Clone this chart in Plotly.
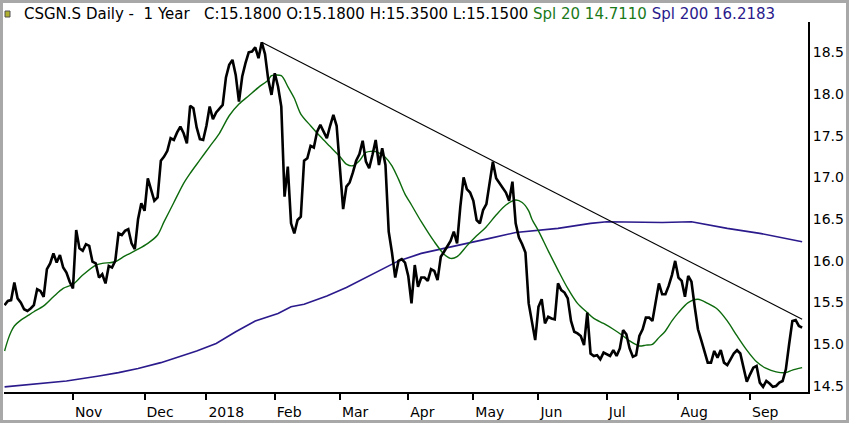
import plotly.graph_objects as go

# daily closes, one per trading day (index 0 = early Oct 2017)
close = [
    15.47, 15.52, 15.53, 15.74, 15.55, 15.50, 15.42, 15.40, 15.43, 15.47,
    15.66, 15.64, 15.57, 15.90, 15.97, 16.09, 15.98, 16.07, 15.92, 15.86,
    15.75, 15.67, 16.37, 16.15, 16.12, 16.20, 16.18, 15.99, 15.97, 15.80,
    15.84, 15.73, 15.94, 15.92, 16.00, 16.33, 16.31, 16.36, 16.38, 16.21,
    16.14, 16.50, 16.69, 16.60, 16.99, 16.85, 16.72, 16.76, 17.20, 17.25,
    17.32, 17.47, 17.45, 17.54, 17.61, 17.53, 17.41, 17.86, 17.83, 17.60,
    17.46, 17.45, 17.62, 17.85, 17.70, 17.78, 17.83, 17.87, 18.20, 18.35,
    18.41, 18.23, 17.91, 18.21, 18.37, 18.50, 18.51, 18.56, 18.43, 18.62,
    18.48, 18.17, 17.99, 18.25, 18.09, 17.85, 16.77, 17.13, 16.45, 16.33,
    16.49, 16.53, 17.20, 17.23, 17.38, 17.36, 17.55, 17.63, 17.55, 17.47,
    17.62, 17.75, 17.62, 17.10, 16.62, 16.89, 16.94, 17.06, 17.20, 17.28,
    17.44, 17.19, 17.11, 17.27, 17.45, 17.15, 17.35, 17.15, 16.35, 16.10,
    15.80, 16.00, 16.02, 15.98, 15.82, 15.49, 15.95, 15.69, 15.80, 15.80,
    15.76, 15.90, 15.88, 15.77, 16.05, 16.11, 16.18, 16.24, 16.35, 16.21,
    16.65, 17.00, 16.86, 16.82, 16.72, 16.49, 16.45, 16.61, 16.68, 16.93,
    17.19, 16.99, 16.93, 16.88, 16.82, 16.72, 16.95, 16.45, 16.28, 16.20,
    16.10, 15.49, 15.27, 15.05, 15.45, 15.54, 15.25, 15.33, 15.31, 15.30,
    15.73, 15.65, 15.62, 15.55, 15.28, 15.15, 15.13, 15.10, 14.99, 15.38,
    14.89, 14.86, 14.87, 14.82, 14.90, 14.88, 14.86, 14.93, 14.86, 14.95,
    15.17, 15.12, 14.95, 14.85, 14.87, 15.10, 15.18, 15.32, 15.32, 15.28,
    15.50, 15.73, 15.60, 15.60, 15.70, 15.83, 16.00, 15.80, 15.76, 15.57,
    15.82, 15.75, 15.45, 15.18, 15.05, 14.92, 14.78, 14.78, 14.92, 14.84,
    14.93, 14.78, 14.75, 14.82, 14.89, 14.93, 14.89, 14.72, 14.55, 14.64,
    14.72, 14.74, 14.54, 14.49, 14.56, 14.53, 14.49, 14.50, 14.54, 14.56,
    14.70, 15.00, 15.28, 15.29, 15.22, 15.20,
]
days = list(range(len(close)))

# 20-day simple average, read at these trading days
spl20_day = [0, 1, 2, 3, 5, 7, 9, 12, 15, 18, 21, 24, 28, 30, 34, 37, 41,
             44, 47, 49, 52, 55, 57, 60, 63, 66, 69, 72, 75, 78, 81,
             82, 85, 87, 89, 91, 94, 97, 100, 103, 105, 107, 109, 111, 114,
             117, 119, 121, 123, 125, 128, 132, 135, 137, 139, 142, 145, 148,
             151, 154, 157, 159, 161, 162, 164, 167, 170, 173, 176, 179, 181,
             184, 187, 190, 192, 195, 197, 199, 201, 203, 205, 207, 210, 213,
             216, 219, 222, 225, 228, 231, 234, 237, 240, 242, 245]
spl20 = [14.92, 15.05, 15.15, 15.22, 15.29, 15.34, 15.39, 15.46, 15.57, 15.67,
         15.72, 15.83, 15.95, 15.97, 15.99, 16.06, 16.14,
         16.21, 16.31, 16.47, 16.70, 16.93, 17.05, 17.21, 17.37, 17.53, 17.74,
         17.88, 17.98, 18.08, 18.17,
         18.22, 18.22, 18.09, 17.95, 17.76, 17.62, 17.49, 17.37, 17.25, 17.16,
         17.14, 17.20, 17.30, 17.31, 17.24, 17.14, 16.98, 16.80, 16.67, 16.47,
         16.23, 16.08, 16.03, 16.05, 16.18, 16.30, 16.41, 16.55, 16.67, 16.73,
         16.70, 16.60, 16.50, 16.36, 16.12, 15.89, 15.67, 15.49, 15.38, 15.31,
         15.25, 15.18, 15.10, 15.04, 14.98, 14.99, 15.00, 15.08, 15.16, 15.28,
         15.38, 15.50, 15.54, 15.49, 15.42, 15.28, 15.10, 14.93, 14.79, 14.71,
         14.67, 14.66, 14.69, 14.72]

# 200-day simple average
spl200_day = [0, 9, 19, 29, 35, 41, 48, 59, 65, 71, 77, 84, 88, 92, 99, 105,
              111, 118, 121, 128, 139, 149, 157, 170, 180, 185, 202, 211, 222,
              232, 245]
spl200 = [14.49, 14.52, 14.56, 14.62, 14.66, 14.71, 14.78, 14.92, 15.01, 15.15,
          15.28, 15.37, 15.45, 15.48, 15.58, 15.68, 15.80, 15.95, 16.00, 16.09,
          16.18, 16.27, 16.34, 16.39, 16.45, 16.47, 16.46, 16.47, 16.39, 16.33,
          16.23]

# resistance line drawn from the January high
trend_day = [79, 245]
trend = [18.62, 15.30]

month_day = [21, 43, 62, 83, 103, 124, 144, 164, 185, 207, 229]
month_label = ["Nov", "Dec", "2018", "Feb", "Mar", "Apr", "May", "Jun", "Jul", "Aug", "Sep"]
price_ticks = [14.5, 15.0, 15.5, 16.0, 16.5, 17.0, 17.5, 18.0, 18.5]

GREEN = "#0c6a0c"
BLUE = "#2a1a8c"
FONT = "DejaVu Sans"

W, H = 850, 424
L, R, T, B = 4, 42, 22, 32


def px_x(px):
    return (px - L) / (W - L - R)


def px_y(py):
    return (H - B - py) / (H - T - B)


fig = go.Figure()
fig.add_trace(go.Scatter(x=spl200_day, y=spl200, mode="lines",
                         line=dict(color=BLUE, width=1.6)))
fig.add_trace(go.Scatter(x=spl20_day, y=spl20, mode="lines",
                         line=dict(color=GREEN, width=1.4, shape="spline", smoothing=0.8)))
fig.add_trace(go.Scatter(x=trend_day, y=trend, mode="lines",
                         line=dict(color="black", width=1.1)))
fig.add_trace(go.Scatter(x=days, y=close, mode="lines",
                         line=dict(color="black", width=2.6)))

sp = "&nbsp;"
header = ("CSGN.S Daily -" + sp * 2 + "1 Year" + sp * 3
          + "C:15.1800 O:15.1800 H:15.3500 L:15.1500 "
          + "<span style='color:#1a7a1a'>Spl 20 14.7110</span> "
          + f"<span style='color:{BLUE}'>Spl 200 16.2183</span>")
fig.add_annotation(x=px_x(22), y=px_y(14), xref="paper", yref="paper",
                   text=header, showarrow=False, xanchor="left", yanchor="middle",
                   font=dict(family=FONT, size=15, color="black"))

# little symbol box before the title
fig.add_shape(type="rect", xref="paper", yref="paper",
              x0=px_x(5), x1=px_x(10), y0=px_y(17), y1=px_y(11),
              fillcolor="#b0b030", line=dict(color="#505050", width=1))
# grey window frame
fig.add_shape(type="rect", xref="paper", yref="paper",
              x0=px_x(1.5), x1=px_x(847.5), y0=px_y(421.5), y1=px_y(1.5),
              line=dict(color="#a8a8a8", width=3))

fig.update_xaxes(range=[-0.18, 246.8], tickmode="array", tickvals=month_day,
                 ticktext=month_label, ticks="outside", ticklen=6, tickwidth=2,
                 tickcolor="black", showline=True, linecolor="black", linewidth=2,
                 showgrid=False, zeroline=False, ticklabelposition="outside right",
                 ticklabelstandoff=6,
                 tickfont=dict(family=FONT, size=14, color="black"))
fig.update_yaxes(range=[14.428, 18.864], side="right", tickmode="array",
                 tickvals=price_ticks, ticktext=[f"{v:.1f}" for v in price_ticks],
                 ticks="", showline=True, linecolor="black", linewidth=2,
                 showgrid=False, zeroline=False,
                 tickfont=dict(family=FONT, size=14, color="black"))
fig.update_layout(width=W, height=H, margin=dict(l=L, r=R, t=T, b=B),
                  plot_bgcolor="white", paper_bgcolor="white", showlegend=False,
                  hovermode=False)

fig.write_html("out.html", config={"displayModeBar": False},
               post_script="document.body.style.margin='0px';")
